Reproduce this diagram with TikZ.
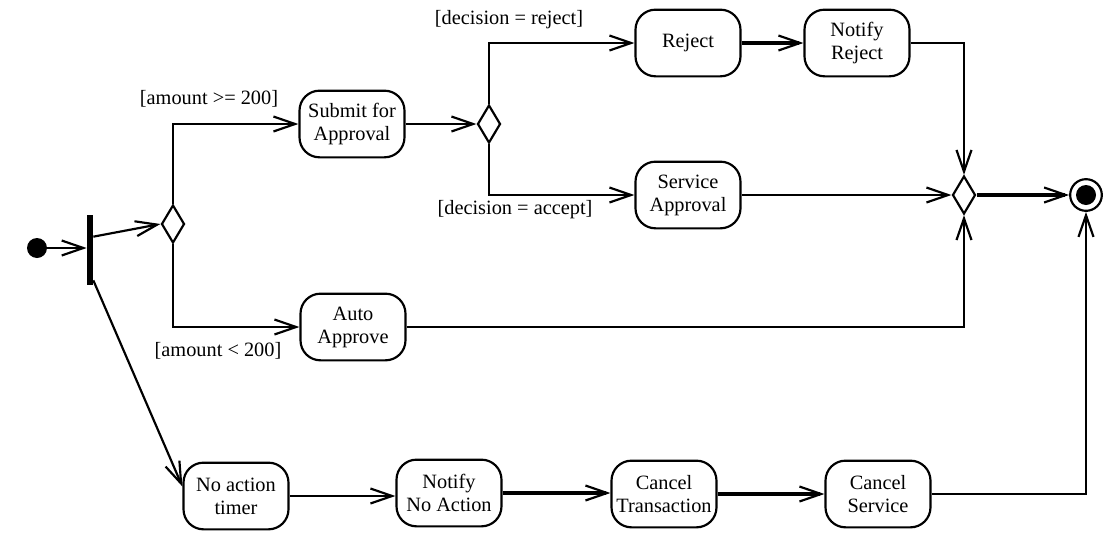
\documentclass[tikz,border=0pt]{standalone}
\usepackage{fontspec}
\setmainfont{Liberation Serif}
\usetikzlibrary{arrows.meta,shapes.geometric}

\begin{document}
\begin{tikzpicture}[x=0.6pt,y=-0.6pt,
		act/.style={draw,line width=1.3pt,rounded corners=12pt,minimum width=63pt,minimum height=40pt,align=center,inner sep=1pt,font=\fontsize{12.2}{13.8}\selectfont},
		choice/.style={draw,line width=1.3pt,diamond,minimum width=13.8pt,minimum height=22.8pt,inner sep=0pt},
		guard/.style={font=\fontsize{12.2}{14}\selectfont},
		flow/.style={line width=1.3pt,-{Straight Barb[length=13pt,width=9pt,line width=1.3pt]}},
		heavy/.style={flow,line width=2.3pt}]
			\useasboundingbox (0,0) rectangle (1116,533);
			% start and fork
			\node (start)[circle,fill,minimum size=12pt,inner sep=0pt] at (37,248){};
			\node (fork)[fill,minimum width=3.6pt,minimum height=42pt,inner sep=0pt] at (90,250){};
			\node (d1)[choice] at (173,224){};
			% upper branch
			\node (sub)[act] at (352,124){Submit for\\Approval};
			\node (d2)[choice] at (489,124){};
			\node (rej)[act] at (688,43){Reject};
			\node (nrej)[act] at (857,43){Notify\\Reject};
			\node (serv)[act] at (688,195){Service\\Approval};
			\node (auto)[act] at (353,327){Auto\\Approve};
			\node (d3)[choice] at (964,195){};
			\node (end)[circle,draw,line width=1.3pt,minimum size=19pt,inner sep=0pt] at (1086,195){};
			\fill (end) circle (6pt);
			% lower branch
			\node (timer)[act] at (236,496){No action\\timer};
			\node (nno)[act] at (449,493){Notify\\No Action};
			\node (ctra)[act] at (664,494){Cancel\\Transaction};
			\node (csrv)[act] at (878,494){Cancel\\Service};
			% guards
			\node (g1)[guard] at (209,99){[amount >= 200]};
			\node (g2)[guard] at (218,351){[amount < 200]};
			\node (g3)[guard] at (509,20){[decision = reject]};
			\node (g4)[guard] at (515,210){[decision = accept]};
			% flows
			\draw[flow] (start.east) -- (start.east -| fork.west);
			\draw[flow] ([yshift=8pt]fork.east) -- (d1.west);
			\draw[flow] (d1.north) |- (sub.west);
			\draw[flow] (d1.south) |- (auto.west);
			\draw[flow] (sub.east) -- (d2.west);
			\draw[flow] (d2.north) |- (rej.west);
			\draw[flow] (d2.south) |- (serv.west);
			\draw[heavy] (rej.east) -- (nrej.west);
			\draw[flow] (nrej.east) -| (d3.north);
			\draw[flow] (serv.east) -- (d3.west);
			\draw[flow] (auto.east) -| (d3.south);
			\draw[heavy] (d3.east) -- (end.west);
			\draw[flow] ([yshift=3pt]fork.south east) -- (timer.170);
			\draw[flow] (timer.east) -- (timer.east -| nno.west);
			\draw[heavy] (nno.east) -- (nno.east -| ctra.west);
			\draw[heavy] (ctra.east) -- (ctra.east -| csrv.west);
			\draw[flow] (csrv.east) -| (end.south);
\end{tikzpicture}
\end{document}
